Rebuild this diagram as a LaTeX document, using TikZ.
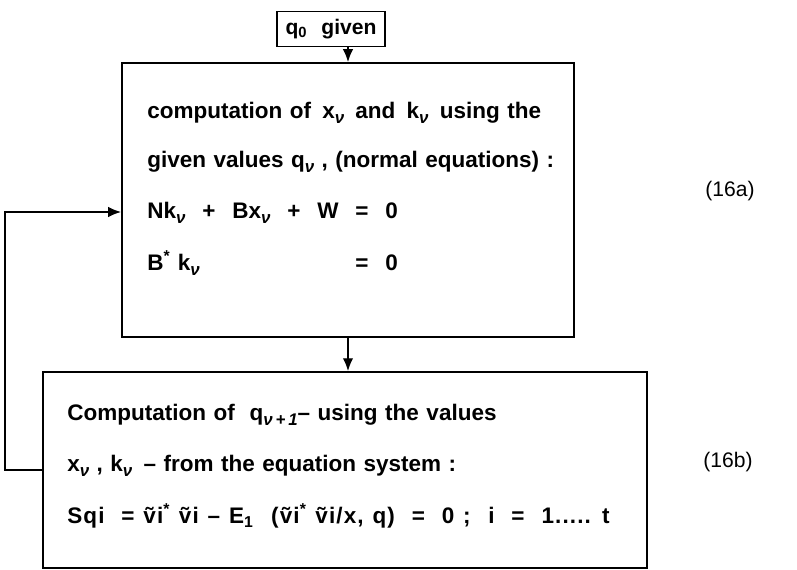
\documentclass[tikz,border=0pt]{standalone}
\usepackage{fontspec}
\setmainfont[WordSpace=1.2]{Liberation Sans}
\usetikzlibrary{arrows.meta}

\newcommand{\nusub}{\raisebox{-0.45ex}{\fontsize{12}{12}\selectfont\itshape ν}}
\newcommand{\opgap}{\hspace{.75em}}

\begin{document}
\begin{tikzpicture}[x=0.025cm,y=-0.025cm,>={Latex[length=3.2mm,width=2.6mm]},
    box/.style={draw,line width=1.3pt,inner sep=0pt},
    txt/.style={anchor=west,inner sep=0pt,font=\fontsize{16}{19}\selectfont\bfseries},
    eqno/.style={inner sep=0pt,font=\fontsize{15}{18}\selectfont},
    flow/.style={->,line width=1pt}]
  \useasboundingbox (0,0) rectangle (797,570);
  \node[box,minimum width=2.7cm,minimum height=0.875cm,font=\fontsize{15}{18}\selectfont\bfseries]
    (qbox) at (331,29) {q\textsubscript{0}\ \ given};
  \node[box,minimum width=11.3cm,minimum height=6.85cm] (normbox) at (348,200) {};
  \node[box,minimum width=15.1cm,minimum height=4.9cm] (iterbox) at (345,470) {};
  \node[txt] (n1) at (147,113) {computation of\ \,x\nusub\ \,and\ \,k\nusub\ \,using the};
  \node[txt] (n2) at (147,162) {given values\ q\nusub\ , (normal equations) :};
  \node[txt] (n3) at (147,213) {Nk\nusub\opgap+\opgap Bx\nusub\opgap+\opgap W\opgap=\opgap0};
  \node[txt] (n4) at (147,263) {\rlap{B\textsuperscript{*} k\nusub}\phantom{Nk\nusub\opgap+\opgap Bx\nusub\opgap+\opgap W\opgap}=\opgap0};
  \node[txt] (i1) at (67,415) {Computation of\ \ q\raisebox{-0.45ex}{\fontsize{12}{12}\selectfont\itshape ν\,+\,1}– using the values};
  \node[txt] (i2) at (67,466) {x\nusub\ , k\nusub\ \,– from the equation system :};
  \node[txt] (i3) at (67,516) {\addfontfeature{LetterSpace=5}Sqi\opgap=\ \~{v}i\textsuperscript{*}\ \~{v}i\ –\ E\textsubscript{1}\ \ (\~{v}i\textsuperscript{*}\ \~{v}i/x, q)\opgap=\opgap0\ ;\ \ i\opgap=\opgap1..... t};
  \node[eqno] (eqa) at (730,191) {(16a)};
  \node[eqno] (eqb) at (728,462) {(16b)};
  \coordinate (back) at (5,212);
  \draw[flow] (qbox.south -| normbox.north) -- (normbox.north);
  \draw[flow] (normbox.south) -- (iterbox.north -| normbox.south);
  \draw[flow] (iterbox.west) -| (back) -- (normbox.west |- back);
\end{tikzpicture}
\end{document}
